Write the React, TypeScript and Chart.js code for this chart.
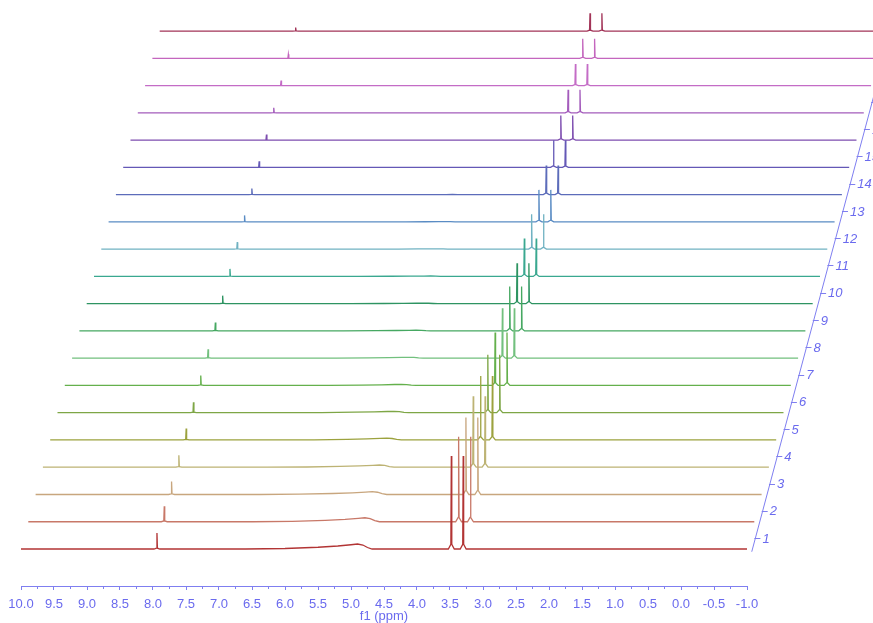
import React, { useEffect, useRef } from 'react';
import { Chart, registerables } from 'chart.js';

Chart.register(...registerables);

// ---- axis ranges / ticks ----
const PPM_MAX = 10.0;
const PPM_MIN = -1.0;
const X_TICK_STEP = 0.25;
const X_TITLE = 'f1 (ppm)';
const STACK_LABELS = ['1', '2', '3', '4', '5', '6', '7', '8', '9', '10', '11', '12', '13', '14', '15', '16', '17', '18', '19', '20'];

// ---- trace colours (bottom -> top) ----
const TRACE_COLORS = [
  '#B23434', '#C87868', '#C8A67E', '#BDB374', '#9CA23E', '#7EA646', '#64B04C', '#72C07E',
  '#46A862', '#2E9462', '#3AA890', '#70B2C2', '#5A8CC4', '#5C6CBA', '#6458B6', '#7E4EB0',
  '#A45CBC', '#C46CC6', '#C466BE', '#A23458',
];

// ---- peak data (heights in px-like units) ----
const SMALL_PEAK_PPM = 7.94;
const SMALL_PEAK_HEIGHTS = [16, 15.5, 13, 12, 11.5, 10.5, 10, 9, 8.5, 8, 7.5, 7, 6.5, 6, 6, 5.5, 5, 5, 4, 3.5];

const DOUBLET_PPMS = [3.48, 3.30];
const DOUBLET_HEIGHTS = [93, 85, 77, 71, 64, 58, 53, 50, 44.5, 40.5, 38, 35, 32, 29, 27, 24.5, 23, 21.5, 19.5, 17.7];

const HUMP_PPMS = [6.6, 6.0, 5.5, 5.2, 5.0, 4.9, 4.82, 4.75, 4.68];
const HUMP_PROFILE = [0, 0.1, 0.35, 0.6, 0.85, 1, 0.8, 0.3, 0];
const HUMP_HEIGHTS = [5, 4, 2.8, 2.2, 1.8, 1.4, 1.1, 0.9, 0.7, 0.5, 0.4, 0.3, 0.2, 0.1, 0, 0, 0, 0, 0, 0];

const PEAK_OFFSETS = [0.045, 0.007, 0, -0.007, -0.045];
const PEAK_PROFILE = [0, 0.05, 1, 0.05, 0];

// ---- stacking geometry ----
const STACK_Y_STEP = 27.26;
const STACK_X_STEP = 0.1106;
const AXIS_GAP = 0.083;

const AXIS_LINE = '#7F7FF0';
const AXIS_TEXT = '#6A6AEE';
const FONT_FAMILY = '"Liberation Sans", Arial, sans-serif';

function buildTrace(k: number) {
  const pts: { x: number; y: number }[] = [];
  const push = (ppm: number, v: number) => pts.push({ x: ppm - k * STACK_X_STEP, y: v + k * STACK_Y_STEP });
  push(PPM_MAX, 0);
  PEAK_OFFSETS.forEach((o, i) => push(SMALL_PEAK_PPM + o, PEAK_PROFILE[i] * SMALL_PEAK_HEIGHTS[k]));
  HUMP_PPMS.forEach((p, i) => push(p, HUMP_PROFILE[i] * HUMP_HEIGHTS[k]));
  DOUBLET_PPMS.forEach((c) => {
    PEAK_OFFSETS.forEach((o, i) => push(c + o, PEAK_PROFILE[i] * DOUBLET_HEIGHTS[k]));
  });
  push(PPM_MIN, 0);
  return pts;
}

const stackAxisPlugin = {
  id: 'stackAxis',
  afterDatasetsDraw(chart: any) {
    const xs = chart.scales.x;
    const ys = chart.scales.y;
    const ctx = chart.ctx;
    const pt = (t: number) => ({
      x: xs.getPixelForValue(PPM_MIN - t * STACK_X_STEP - AXIS_GAP),
      y: ys.getPixelForValue(t * STACK_Y_STEP),
    });
    ctx.save();
    ctx.strokeStyle = AXIS_LINE;
    ctx.lineWidth = 1;
    const a = pt(-0.1);
    const b = pt(25);
    ctx.beginPath();
    ctx.moveTo(a.x, a.y);
    ctx.lineTo(b.x, b.y);
    ctx.stroke();
    ctx.font = 'italic 13px ' + FONT_FAMILY;
    ctx.fillStyle = AXIS_TEXT;
    ctx.textAlign = 'left';
    ctx.textBaseline = 'middle';
    STACK_LABELS.forEach((lab, i) => {
      const p = pt(i + 0.4);
      ctx.beginPath();
      ctx.moveTo(p.x - 1, Math.round(p.y) + 0.5);
      ctx.lineTo(p.x + 5, Math.round(p.y) + 0.5);
      ctx.stroke();
      ctx.fillText(lab, p.x + 7, p.y + 1);
    });
    ctx.restore();
  },
};

export default function App() {
  const ref = useRef<HTMLCanvasElement | null>(null);
  useEffect(() => {
    if (!ref.current) return;
    const datasets = TRACE_COLORS.map((c, k) => ({
      label: STACK_LABELS[k],
      data: buildTrace(k),
      borderColor: c,
      backgroundColor: c,
      borderWidth: 1.3,
      pointRadius: 0,
      tension: 0,
      clip: false as any,
    }));
    const chart = new Chart(ref.current, {
      type: 'line',
      data: { datasets },
      options: {
        animation: false,
        responsive: false,
        devicePixelRatio: 1,
        layout: { padding: { left: 21, right: 126, top: 0, bottom: 0 } },
        plugins: { legend: { display: false }, tooltip: { enabled: false } },
        scales: {
          x: {
            type: 'linear',
            min: PPM_MIN,
            max: PPM_MAX,
            reverse: true,
            afterFit: (s: any) => {
              s.height = 37;
            },
            border: { display: true, color: AXIS_LINE, width: 1 },
            grid: {
              drawOnChartArea: false,
              drawTicks: true,
              tickLength: 4,
              tickColor: AXIS_LINE,
              tickBorderDash: (ctx: any) => {
                const v = ctx.tick ? ctx.tick.value : 0;
                return Math.abs(v * 2 - Math.round(v * 2)) < 1e-6 ? [] : [2, 10];
              },
            },
            ticks: {
              stepSize: X_TICK_STEP,
              autoSkip: false,
              maxRotation: 0,
              minRotation: 0,
              padding: 7,
              color: AXIS_TEXT,
              font: { family: FONT_FAMILY, size: 13 },
              callback: (v: any) => {
                const n = Number(v);
                return Math.abs(n * 2 - Math.round(n * 2)) < 1e-6 ? n.toFixed(1) : '';
              },
            },
            title: {
              display: true,
              text: X_TITLE,
              color: AXIS_TEXT,
              padding: { top: 0, bottom: 0 },
              font: { family: FONT_FAMILY, size: 13, lineHeight: 1 },
            },
          },
          y: {
            type: 'linear',
            display: false,
            min: -37,
            max: 549,
          },
        },
      },
      plugins: [stackAxisPlugin],
    });
    return () => chart.destroy();
  }, []);
  return (
    <div style={{ position: 'fixed', left: 0, top: 0, width: 873, height: 623, background: '#fff' }}>
      <canvas ref={ref} width={873} height={623} style={{ width: 873, height: 623, display: 'block' }} />
    </div>
  );
}
